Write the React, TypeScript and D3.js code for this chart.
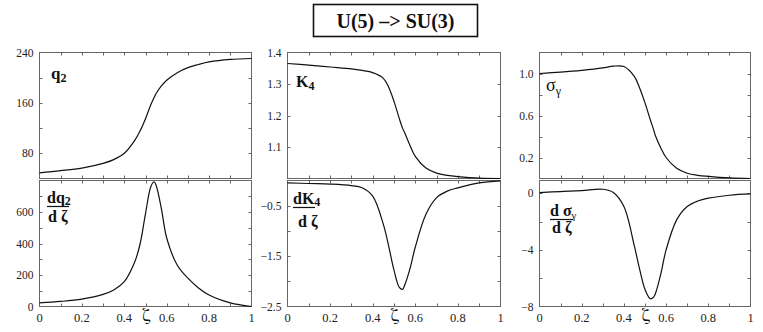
import React from "react";
import * as d3 from "d3";

const zeta = [0, 0.1, 0.2, 0.3, 0.35, 0.4, 0.45, 0.475, 0.5, 0.525, 0.54, 0.55, 0.575, 0.6, 0.65, 0.7, 0.75, 0.8, 0.9, 1];
const q2 = [49, 52.4, 56.6, 64, 70, 80, 101, 116, 135, 157, 168, 175, 187, 196, 208, 216, 221, 225, 229, 230.5];
const dq2 = [23, 32, 47, 77, 105, 158, 286, 400, 590, 760, 792, 770, 620, 435, 262, 180, 118, 73, 23, 0];
const K4 = [1.365, 1.36, 1.354, 1.348, 1.343, 1.336, 1.318, 1.29, 1.245, 1.19, 1.16, 1.145, 1.105, 1.07, 1.033, 1.017, 1.01, 1.006, 1.001, 1.0];
const dK4 = [-0.046, -0.06, -0.07, -0.1, -0.145, -0.31, -0.87, -1.3, -1.78, -2.12, -2.16, -2.08, -1.75, -1.32, -0.67, -0.34, -0.21, -0.145, -0.046, -0.007];
const sigma = [1.0, 1.013, 1.03, 1.053, 1.07, 1.066, 0.97, 0.86, 0.72, 0.56, 0.47, 0.404, 0.29, 0.2, 0.097, 0.05, 0.03, 0.02, 0.006, 0.0];
const dSigma = [0.05, 0.12, 0.19, 0.28, 0.05, -0.94, -3.76, -5.4, -6.8, -7.45, -7.35, -7.06, -5.7, -4.0, -1.88, -0.94, -0.55, -0.35, -0.14, -0.05];

const xTickValues = [0, 0.1, 0.2, 0.3, 0.4, 0.5, 0.6, 0.7, 0.8, 0.9, 1];
const xTickLabels = ["0", "0.2", "0.4", "0.6", "0.8", "1"];
const xTickLabelValues = [0, 0.2, 0.4, 0.6, 0.8, 1];

const title = "U(5) \u2013> SU(3)";

const FONT = "Liberation Serif, Times New Roman, serif";
const fs = { fontFamily: FONT };
const greek = { fontFamily: "FreeSerif, Liberation Serif, serif" };

type PanelSpec = {
  x0: number;
  x1: number;
  y0: number;
  y1: number;
  domain: [number, number];
  values: number[];
  ticks: number[];
  labels: number[];
  fmt: (v: number) => string;
  bottomLabels: boolean;
};

const cols = [
  [39.5, 251.5],
  [287.5, 500.5],
  [539.5, 750.5],
];
const upperY = [52.5, 178.5];
const lowerY = [180.5, 306.5];

const fmtNum = (v: number) => (v < 0 ? "\u2212" + String(Math.abs(v)) : String(v));
const fmtFix1 = (v: number) => (v < 0 ? "\u2212" + Math.abs(v).toFixed(1) : v.toFixed(1));

const panels: PanelSpec[] = [
  { x0: cols[0][0], x1: cols[0][1], y0: upperY[0], y1: upperY[1], domain: [40, 240], values: q2, ticks: [80, 120, 160, 200], labels: [80, 160, 240], fmt: fmtNum, bottomLabels: false },
  { x0: cols[0][0], x1: cols[0][1], y0: lowerY[0], y1: lowerY[1], domain: [0, 800], values: dq2, ticks: [100, 200, 300, 400, 500, 600, 700], labels: [0, 200, 400, 600], fmt: fmtNum, bottomLabels: true },
  { x0: cols[1][0], x1: cols[1][1], y0: upperY[0], y1: upperY[1], domain: [1.0, 1.4], values: K4, ticks: [1.1, 1.2, 1.3], labels: [1.1, 1.2, 1.3, 1.4], fmt: fmtFix1, bottomLabels: false },
  { x0: cols[1][0], x1: cols[1][1], y0: lowerY[0], y1: lowerY[1], domain: [-2.5, 0], values: dK4, ticks: [-2, -1.5, -1, -0.5], labels: [-2.5, -1.5, -0.5], fmt: fmtFix1, bottomLabels: true },
  { x0: cols[2][0], x1: cols[2][1], y0: upperY[0], y1: upperY[1], domain: [0, 1.2], values: sigma, ticks: [0.2, 0.4, 0.6, 0.8, 1.0], labels: [0.2, 0.6, 1.0], fmt: fmtFix1, bottomLabels: false },
  { x0: cols[2][0], x1: cols[2][1], y0: lowerY[0], y1: lowerY[1], domain: [-8, 0.9], values: dSigma, ticks: [-6, -4, -2, 0], labels: [-8, -4, 0], fmt: fmtNum, bottomLabels: true },
];

function Panel({ p }: { p: PanelSpec }) {
  const x = d3.scaleLinear().domain([0, 1]).range([p.x0, p.x1]);
  const y = d3.scaleLinear().domain(p.domain).range([p.y1, p.y0]);
  const line = d3
    .line<number>()
    .x((_, i) => x(zeta[i]))
    .y((d) => y(d))
    .curve(d3.curveCatmullRom.alpha(0.5));
  const tl = 3;
  const axisColor = "#666";
  return (
    <g>
      <rect x={p.x0} y={p.y0} width={p.x1 - p.x0} height={p.y1 - p.y0} fill="none" stroke={axisColor} strokeWidth={1} />
      {xTickValues.slice(1, -1).map((t) => (
        <g key={"xt" + t}>
          <line x1={Math.round(x(t)) + 0.5} x2={Math.round(x(t)) + 0.5} y1={p.y1} y2={p.y1 - tl} stroke={axisColor} />
          <line x1={Math.round(x(t)) + 0.5} x2={Math.round(x(t)) + 0.5} y1={p.y0} y2={p.y0 + tl} stroke={axisColor} />
        </g>
      ))}
      {p.ticks.map((t) => (
        <g key={"yt" + t}>
          <line x1={p.x0} x2={p.x0 + tl} y1={Math.round(y(t)) + 0.5} y2={Math.round(y(t)) + 0.5} stroke={axisColor} />
          <line x1={p.x1} x2={p.x1 - tl} y1={Math.round(y(t)) + 0.5} y2={Math.round(y(t)) + 0.5} stroke={axisColor} />
        </g>
      ))}
      {p.labels.map((t) => (
        <text key={"yl" + t} x={p.x0 - 6} y={y(t)} dy="0.35em" textAnchor="end" fontSize={11.5} style={fs} fill="#222">
          {p.fmt(t)}
        </text>
      ))}
      {p.bottomLabels &&
        xTickLabelValues.map((t, i) => (
          <text key={"xl" + t} x={x(t)} y={p.y1 + 15} textAnchor="middle" fontSize={12.5} style={fs} fill="#222">
            {xTickLabels[i]}
          </text>
        ))}
      {p.bottomLabels && (
        <text x={x(0.5) + 1} y={p.y1 + 14} textAnchor="middle" fontSize={19} style={greek} fill="#111">
          {"\u03B6"}
        </text>
      )}
      <path d={line(p.values) || ""} fill="none" stroke="#111" strokeWidth={1.2} />
    </g>
  );
}

export default function App() {
  return (
    <svg width={763} height={332} style={{ position: "absolute", left: 0, top: 0, background: "#fff" }}>
      <rect x={0} y={0} width={763} height={332} fill="#fff" />
      <rect x={313.5} y={4.5} width={164} height={32} fill="none" stroke="#111" strokeWidth={1.6} />
      <text x={395.5} y={27.5} textAnchor="middle" fontSize={20} fontWeight="bold" style={fs} fill="#111">
        {title}
      </text>
      {panels.map((p, i) => (
        <Panel key={i} p={p} />
      ))}
      <g style={fs} fill="#111">
        <text x={51} y={79} fontSize={17} fontWeight="bold">
          q<tspan fontSize={12} dy={3}>2</tspan>
        </text>
        <text x={296} y={87} fontSize={16} fontWeight="bold">
          K<tspan fontSize={12} dy={3}>4</tspan>
        </text>
        <text x={546} y={91} fontSize={18}>
          {"\u03C3"}
          <tspan fontSize={12} dy={4}>{"\u03B3"}</tspan>
        </text>
      </g>
      <g style={fs} fill="#111" fontWeight="bold">
        <text x={47} y={203} fontSize={16}>
          dq<tspan fontSize={12} dy={2}>2</tspan>
        </text>
        <line x1={47} x2={69} y1={206.5} y2={206.5} stroke="#111" strokeWidth={1.2} />
        <text x={48} y={222} fontSize={16}>
          d {"\u03B6"}
        </text>
        <text x={293} y={204} fontSize={16}>
          dK<tspan fontSize={12} dy={2}>4</tspan>
        </text>
        <line x1={293} x2={315} y1={207.5} y2={207.5} stroke="#111" strokeWidth={1.2} />
        <text x={298} y={227} fontSize={16}>
          d {"\u03B6"}
        </text>
        <text x={550} y={216} fontSize={16}>
          d {"\u03C3"}
          <tspan fontSize={11} dy={3} fontWeight="normal">{"\u03B3"}</tspan>
        </text>
        <line x1={550} x2={573} y1={219.5} y2={219.5} stroke="#111" strokeWidth={1.2} />
        <text x={552} y={233} fontSize={16}>
          d {"\u03B6"}
        </text>
      </g>
    </svg>
  );
}
